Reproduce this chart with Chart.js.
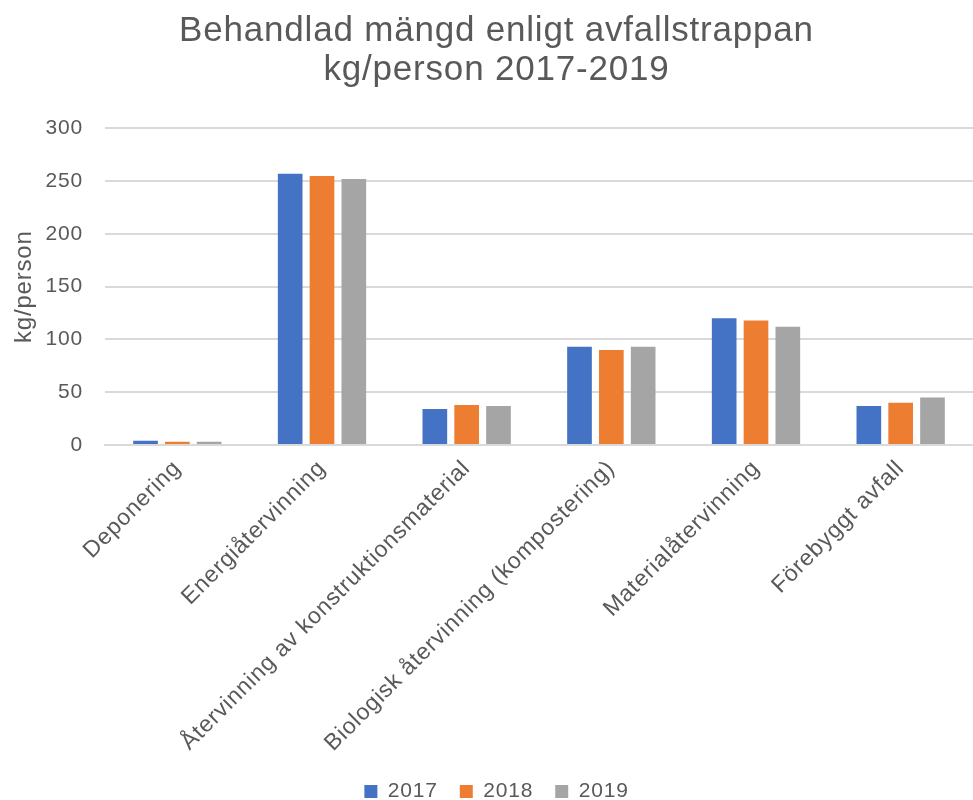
<!DOCTYPE html>
<html>
<head>
<meta charset="utf-8">
<script src="https://cdn.jsdelivr.net/npm/chart.js@4"></script>
<style>
  html, body { margin: 0; padding: 0; background: #fff; overflow: hidden; }
  #wrap { width: 973px; height: 800px; }
</style>
</head>
<body>
<div id="wrap"><canvas id="chart" width="973" height="800"></canvas></div>
<script>
const categories = [
  "Deponering",
  "Energiåtervinning",
  "Återvinning av konstruktionsmaterial",
  "Biologisk återvinning (kompostering)",
  "Materialåtervinning",
  "Förebyggt avfall",
];
const values2017 = [4, 257, 34, 93, 120, 37];
const values2018 = [3, 255, 38, 90, 118, 40];
const values2019 = [3, 252, 37, 93, 112, 45];
const yTicks = [0, 50, 100, 150, 200, 250, 300];

const textColor = "#595959";
const font = "'Liberation Sans', Arial, sans-serif";

// Excel-teckensnittet är lite bredare än Liberation Sans
const spacing = {
  id: "spacing",
  beforeUpdate(chart) { chart.ctx.letterSpacing = "0.8px"; },
  beforeDraw(chart) { chart.ctx.letterSpacing = "0.8px"; },
};

const ctx = document.getElementById("chart").getContext("2d");
new Chart(ctx, {
  type: "bar",
  data: {
    labels: categories,
    datasets: [
      { label: "2017", data: values2017, backgroundColor: "#4472C4" },
      { label: "2018", data: values2018, backgroundColor: "#ED7D31" },
      { label: "2019", data: values2019, backgroundColor: "#A5A5A5" },
    ],
  },
  plugins: [spacing],
  options: {
    responsive: false,
    animation: false,
    datasets: { bar: { categoryPercentage: 0.66, barPercentage: 0.775 } },
    layout: { padding: { left: 10, right: -10, top: 12, bottom: -12 } },
    plugins: {
      title: {
        display: true,
        text: ["Behandlad mängd enligt avfallstrappan", "kg/person 2017-2019"],
        color: textColor,
        font: { family: font, size: 35, weight: "normal", lineHeight: 1.12 },
        padding: { top: 0, bottom: 38 },
      },
      legend: {
        position: "bottom",
        labels: {
          color: textColor,
          font: { family: font, size: 21 },
          boxWidth: 13,
          boxHeight: 13,
          padding: 22,
        },
      },
      tooltip: { enabled: false },
    },
    scales: {
      x: {
        grid: { display: false },
        border: { color: "#d9d9d9", width: 2 },
        ticks: {
          color: textColor,
          font: { family: font, size: 23 },
          maxRotation: 45,
          minRotation: 45,
          padding: 2,
        },
      },
      y: {
        min: 0,
        max: 300,
        afterBuildTicks: (axis) => {
          axis.ticks = yTicks.map((v) => ({ value: v }));
        },
        afterFit: (axis) => {
          axis.width = 95;
        },
        grid: { color: "#d9d9d9", lineWidth: 2, drawTicks: false },
        border: { display: false },
        ticks: {
          color: textColor,
          font: { family: font, size: 21 },
          padding: 22,
        },
        title: {
          display: true,
          text: "kg/person",
          color: textColor,
          font: { family: font, size: 24 },
          padding: 0,
        },
      },
    },
  },
});
</script>
</body>
</html>
